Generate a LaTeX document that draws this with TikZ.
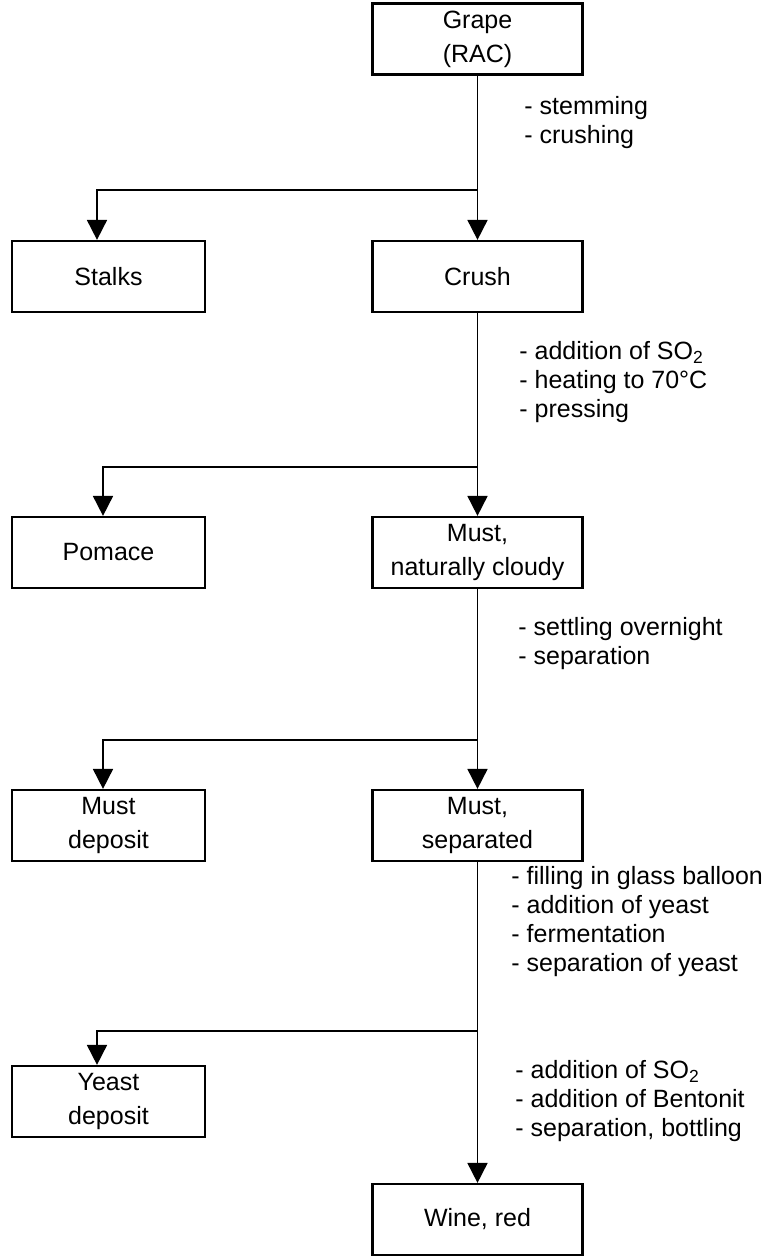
\documentclass[tikz,border=0pt]{standalone}
\usepackage{fontspec}
\setmainfont{Liberation Sans}
\usetikzlibrary{arrows.meta}
\begin{document}
\begin{tikzpicture}[x=0.5pt,y=-0.5pt,
  box/.style={draw,line width=1.1pt,inner sep=0pt,align=center,
    font=\fontsize{12.5}{17}\selectfont},
  rbox/.style={box,minimum width=105pt,minimum height=35.5pt},
  lbox/.style={box,minimum width=96.5pt,minimum height=35.5pt},
  link/.style={line width=0.9pt},
  flow/.style={link,-{Triangle[length=10pt,width=10pt]}},
  steps/.style={anchor=west,align=left,inner sep=0pt,
    font=\fontsize{12.5}{14.5}\selectfont}]
\useasboundingbox (0,0) rectangle (763,1257);

% main chain
\node[rbox] (grape) at (477.5,39) {Grape\\(RAC)};
\node[rbox] (crush) at (477.5,276.5) {Crush};
\node[rbox] (mustc) at (477.5,552.5) {Must,\\naturally cloudy};
\node[rbox] (musts) at (477.5,825.5) {Must,\\separated};
\node[rbox] (wine) at (477.5,1219.5) {Wine, red};

% side products
\node[lbox] (stalks) at (108.5,276.5) {Stalks};
\node[lbox] (pomace) at (108.5,552.5) {Pomace};
\node[lbox] (mdep) at (108.5,825.5) {Must\\deposit};
\node[lbox] (ydep) at (108.5,1101.5) {Yeast\\deposit};

% branching points on the main line
\coordinate (b1) at (477.5,190);
\coordinate (b2) at (477.5,467);
\coordinate (b3) at (477.5,740);
\coordinate (b4) at (477.5,1031);

\draw[flow] (grape) -- (crush);
\draw[flow] (crush) -- (mustc);
\draw[flow] (mustc) -- (musts);
\draw[flow] (musts) -- (wine);

\draw[flow] (b1) -| ([xshift=-5.75pt]stalks.north);
\draw[flow] (b2) -| ([xshift=-2.75pt]pomace.north);
\draw[flow] (b3) -| ([xshift=-2.75pt]mdep.north);
\draw[flow] (b4) -| ([xshift=-5.75pt]ydep.north);

% process steps
\node[steps] (s1) at (524,122.5) {- stemming\\- crushing};
\node[steps] (s2) at (519,382) {- addition of SO\textsubscript{2}\\- heating to 70°C\\- pressing};
\node[steps] (s3) at (518,643.5) {- settling overnight\\- separation};
\node[steps] (s4) at (511,922) {- filling in glass balloon\\- addition of yeast\\- fermentation\\- separation of yeast};
\node[steps] (s5) at (515,1101) {- addition of SO\textsubscript{2}\\- addition of Bentonit\\- separation, bottling};
\end{tikzpicture}
\end{document}
